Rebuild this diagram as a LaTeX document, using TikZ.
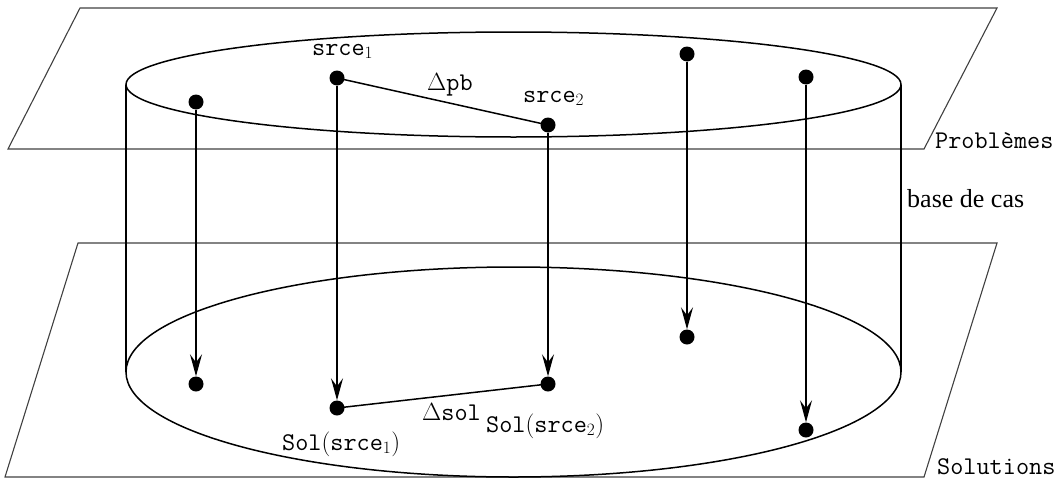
\documentclass[tikz,border=0pt]{standalone}
\usepackage{fontspec}
\setmainfont{Liberation Serif}
\usetikzlibrary{arrows.meta}
\begin{document}
\begin{tikzpicture}[x=1pt,y=-1pt,
  plane/.style={draw=black!75, line width=1.1pt},
  cyl/.style={draw=black, line width=1.5pt},
  dot/.style={circle, fill=black, inner sep=0pt, minimum size=15pt},
  arr/.style={draw=black, line width=1.5pt, -{Stealth[length=22pt,width=12pt,inset=8pt]}},
  seg/.style={draw=black, line width=1.5pt},
  lab/.style={inner sep=0pt, anchor=base west, font=\fontsize{25.5}{30}\selectfont},
  serif/.style={inner sep=0pt, anchor=base west, font=\fontsize{26}{30}\selectfont}
]
\useasboundingbox (0,0) rectangle (1064,479);
% planes
\draw[plane] (80,8) -- (997,8) -- (924,149) -- (8,149) -- cycle;
\draw[plane] (78,243) -- (997,243) -- (924,477) -- (5,477) -- cycle;
% cylinder
\draw[cyl] (513.5,84.5) ellipse [x radius=387.5, y radius=52.5];
\draw[cyl] (513.5,372) ellipse [x radius=387.5, y radius=105];
\draw[cyl] (126,85) -- (126,372);
\draw[cyl] (901,85) -- (901,372);
% dots
\node[dot] (t1) at (196,102) {};
\node[dot] (t2) at (337,78) {};
\node[dot] (t3) at (548,125) {};
\node[dot] (t4) at (687,54) {};
\node[dot] (t5) at (806,77) {};
\node[dot] (b1) at (196,384) {};
\node[dot] (b2) at (337,408) {};
\node[dot] (b3) at (548,384) {};
\node[dot] (b4) at (687,337) {};
\node[dot] (b5) at (806,430) {};
% arrows
\draw[arr] (t1) -- (b1);
\draw[arr] (t2) -- (b2);
\draw[arr] (t3) -- (b3);
\draw[arr] (t4) -- (b4);
\draw[arr] (t5) -- (b5);
\draw[seg] (t2.center) -- (t3.center);
\draw[seg] (b2.center) -- (b3.center);
% labels
\node[lab] (l1) at (312,55) {\texttt{srce}$_1$};
\node[lab] (l2) at (523,102) {\texttt{srce}$_2$};
\node[lab] (l3) at (427,90) {$\Delta$\texttt{pb}};
\node[lab] (l4) at (422,420) {$\Delta$\texttt{sol}};
\node[lab] (l5) at (486,432) {\texttt{Sol}$($\texttt{srce}$_2)$};
\node[lab] (l6) at (282,450) {\texttt{Sol}$($\texttt{srce}$_1)$};
\node[lab] (l7) at (935,148) {\texttt{Problèmes}};
\node[lab] (l8) at (937,474) {\texttt{Solutions}};
\node[serif] (l9) at (907,207) {base de cas};
\end{tikzpicture}
\end{document}
